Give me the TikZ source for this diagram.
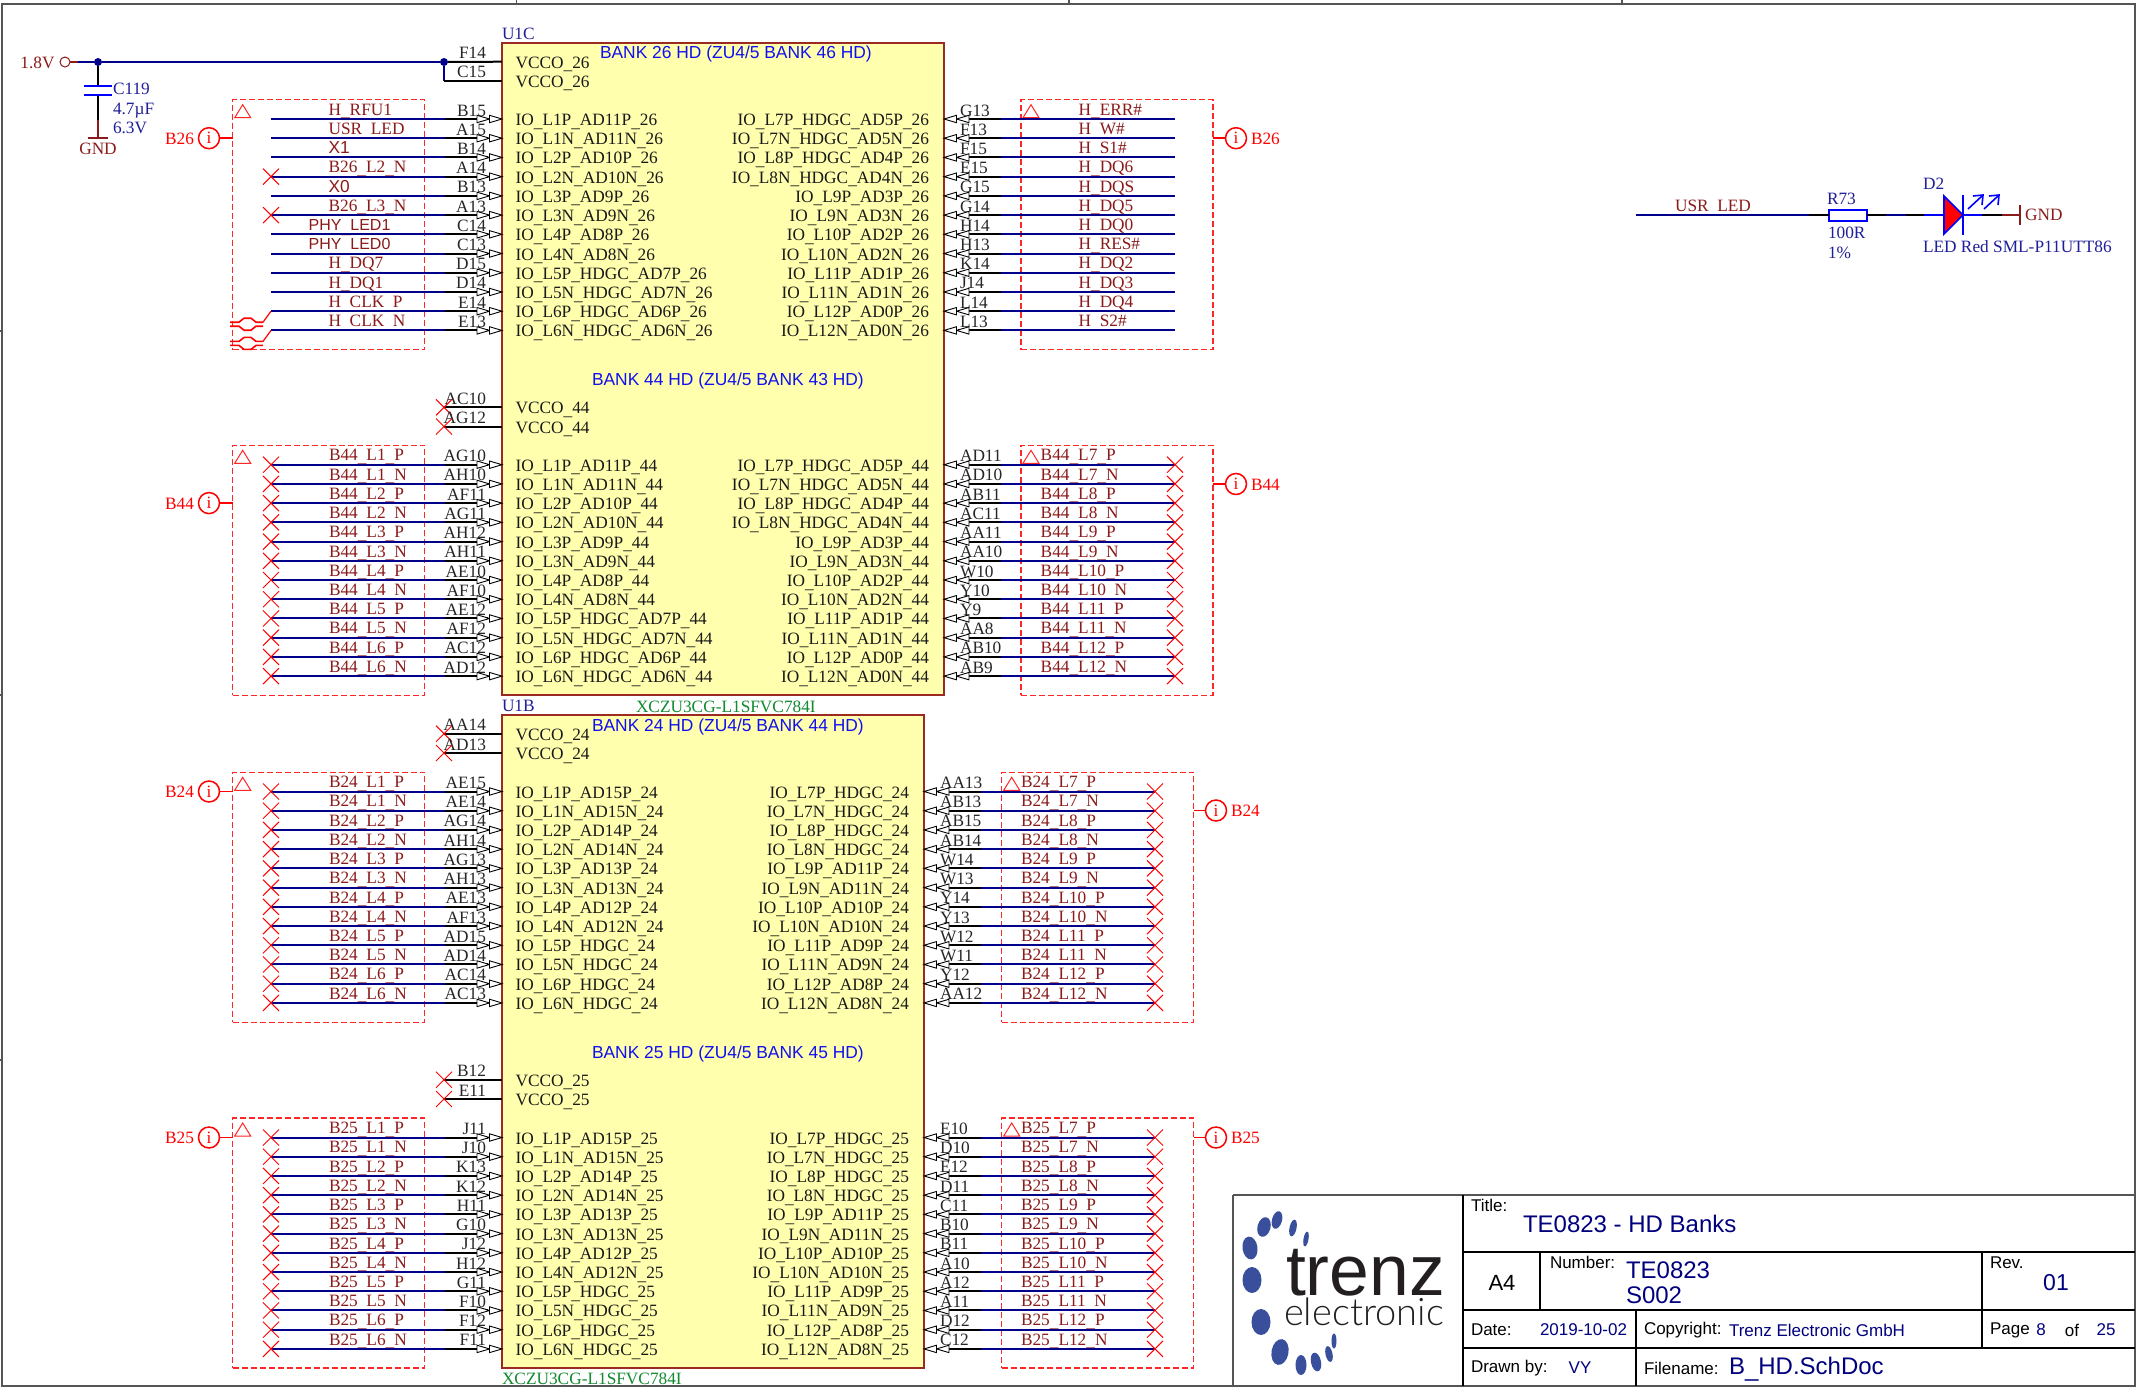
\documentclass[tikz,border=0pt]{standalone}
\usepackage{fontspec}
\setmainfont{Liberation Serif}
\newfontfamily\ars{Liberation Sans}
\newfontfamily\lgt[UprightFont=* Light]{Lato}
\usetikzlibrary{calc}
\definecolor{wirecol}{HTML}{00008B}
\definecolor{netcol}{HTML}{8B1A1A}
\definecolor{compcol}{HTML}{1F1F99}
\definecolor{bankcol}{HTML}{1010F0}
\definecolor{bodyfill}{HTML}{FFFFAE}
\definecolor{bodyedge}{HTML}{9B2A22}
\definecolor{partcol}{HTML}{128A30}
\definecolor{tbcol}{HTML}{00007F}
\definecolor{logob}{HTML}{3A4F9C}
\definecolor{logok}{HTML}{231F20}
\definecolor{framecol}{HTML}{555555}
\newcommand\fs[1]{\fontsize{#1}{#1}\selectfont}
\tikzset{
 x=1pt,y=-1pt,
 every node/.style={inner sep=0pt,outer sep=0pt},
 wire/.style={draw=wirecol,line width=2pt},
 pinw/.style={draw=black,line width=2pt},
 tri/.style={draw=black,fill=white,line width=0.9pt,line join=miter},
 netlab/.style={font=\fs{17.3},text=netcol},
 pinlab/.style={font=\fs{17.3},text=black!85},
 iolab/.style={font=\fs{17.3},text=black!90},
 banklab/.style={font=\ars\fs{17.4},text=bankcol,anchor=west},
 complab/.style={font=\fs{17.3},text=compcol},
 partlab/.style={font=\fs{17.3},text=partcol,anchor=west},
 body/.style={draw=bodyedge,fill=bodyfill,line width=1.5pt,anchor=north west},
 dbox/.style={draw=red!85!white,line width=1.1pt,dash pattern=on 6pt off 3pt,anchor=north west,minimum width=192pt,minimum height=250pt},
 xmk/.style={draw=red,line width=1pt},
 infoc/.style={circle,draw=red,line width=1.5pt,minimum size=21pt,text=red,font=\fs{17.3}},
 infol/.style={text=red,font=\fs{17.3}},
 junc/.style={circle,fill=wirecol,minimum size=8pt},
 tbl/.style={font=\ars\fs{17},text=black,anchor=west},
 tbv/.style={font=\ars\fs{17},text=tbcol,anchor=west},
 tbline/.style={draw=black,line width=1.4pt},
 diffl/.style={draw=red,line width=1.6pt},
}
\newcommand\xm[1]{\draw[xmk] (#1) ++(-8,-8) -- ++(16,16) ++(-16,0) -- ++(16,-16);}
% #1 tag, #2 y0, #3 net x, #4 list name/pin/net
\newcommand\LeftPins[4]{%
 \foreach \nm/\pn/\nt [count=\i from 0] in {#4}{%
  \pgfmathsetmacro\yy{#2+\i*19.22}
  \node[netlab,anchor=base west] (net#1-\i) at (#3,\yy-3.8) {\nt};
  \node[pinlab,anchor=base east] (pin#1-\i) at (486,\yy-3) {\pn};
  \node[iolab,anchor=base west] (io#1-\i) at (515.6,\yy+6.5) {\nm};
  \coordinate (end#1-\i) at (271,\yy);
  \coordinate (jn#1-\i) at (445,\yy);
  \coordinate (bd#1-\i) at (502,\yy);
  \draw[pinw] (jn#1-\i) -- ($(bd#1-\i)+(-14,0)$);
  \draw[wire] (end#1-\i) -- (jn#1-\i);
  \draw[tri] (bd#1-\i) ++(-12.5,0) -- ++(-12.5,-3.7) -- ++(0,7.4) -- cycle;
  \draw[tri] (bd#1-\i) -- ++(-12.5,-3.7) -- ++(0,7.4) -- cycle;
 }}
% #1 tag, #2 y0, #3 body right x, #4 net x, #5 list
\newcommand\RightPins[5]{%
 \foreach \nm/\pn/\nt [count=\i from 0] in {#5}{%
  \pgfmathsetmacro\yy{#2+\i*19.22}
  \node[netlab,anchor=base west] (net#1-\i) at (#4,\yy-3.8) {\nt};
  \node[pinlab,anchor=base west] (pin#1-\i) at (#3+16,\yy-3) {\pn};
  \node[iolab,anchor=base east] (io#1-\i) at (#3-15,\yy+6.5) {\nm};
  \coordinate (bd#1-\i) at (#3,\yy);
  \coordinate (jn#1-\i) at (#3+57,\yy);
  \coordinate (end#1-\i) at (#3+231,\yy);
  \draw[pinw] ($(bd#1-\i)+(14,0)$) -- (jn#1-\i);
  \draw[wire] (jn#1-\i) -- (end#1-\i);
  \draw[tri] (bd#1-\i) ++(12.5,0) -- ++(12.5,-3.7) -- ++(0,7.4) -- cycle;
  \draw[tri] (bd#1-\i) -- ++(12.5,-3.7) -- ++(0,7.4) -- cycle;
 }}
% #1 tag #2 y #3 name #4 pin
\newcommand\Vcco[4]{%
 \node[iolab,anchor=base west] (vn#1) at (515.6,#2+6.5) {#3};
 \node[pinlab,anchor=base east] (vp#1) at (486,#2-3) {#4};
 \coordinate (vb#1) at (502,#2);
 \coordinate (vx#1) at (444,#2);
 \draw[pinw] (vx#1) -- (vb#1);
 \xm{vx#1}}
\newcommand\BoxTri[1]{\draw[red!85!white,line width=1pt] (#1.north west) ++(2,18) -- ++(16,0) -- ++(-8,-13) -- cycle;}
\newcommand\InfoL[4]{% tag, box, y, text
 \node[infoc] (inf#1) at (209,#3) {i};
 \draw[draw=red,line width=1.5pt] (inf#1) -- (inf#1 -| #2.west);
 \node[infol,anchor=base east] (infl#1) at (194,#3+6) {#4};}
\newcommand\InfoR[5]{% tag, box, x, y, text
 \node[infoc] (inf#1) at (#3,#4) {i};
 \draw[draw=red,line width=1.5pt] (inf#1) -- (inf#1 -| #2.east);
 \node[infol,anchor=base west] (infl#1) at (#3+15,#4+6) {#5};}
\begin{document}
\catcode`\_=\active
\protected\def_{\raisebox{-1.6pt}{\char95 }}
\begin{tikzpicture}
\useasboundingbox (0,0) rectangle (2137,1387);
\fill[white] (0,0) rectangle (2137,1387);
% sheet frame
\draw[draw=framecol,line width=2pt] (1.5,4) -- (2135,4) -- (2135,1386) -- (1.5,1386) -- cycle;
\foreach \q in {516.5,1069,1622}{\draw[draw=framecol,line width=1.2pt] (\q,0) -- (\q,4);}
\foreach \q in {331,695,1060}{\draw[draw=framecol,line width=1.2pt] (0,\q) -- (2,\q);}
% bodies
\node[body,minimum width=442pt,minimum height=652pt] (U1C) at (502,43) {};
\node[body,minimum width=422pt,minimum height=653pt] (U1B) at (502,715) {};
\node[complab,anchor=base west] (lU1C) at (502,39) {U1C};
\node[complab,anchor=base west] (lU1B) at (502,711) {U1B};
\node[partlab] (pU1C) at (636,706.5) {XCZU3CG-L1SFVC784I};
\node[partlab] (pU1B) at (502,1378.5) {XCZU3CG-L1SFVC784I};
\node[banklab] (b26) at (600,54) {BANK 26 HD (ZU4/5 BANK 46 HD)};
\node[banklab] (b44) at (592,381) {BANK 44 HD (ZU4/5 BANK 43 HD)};
\node[banklab] (b24) at (592,727) {BANK 24 HD (ZU4/5 BANK 44 HD)};
\node[banklab] (b25) at (592,1054) {BANK 25 HD (ZU4/5 BANK 45 HD)};
% dashed boxes
\node[dbox] (bL26) at (232.7,99.7) {};
\node[dbox] (bR26) at (1021,99.7) {};
\node[dbox] (bL44) at (232.7,445.3) {};
\node[dbox] (bR44) at (1021,445.3) {};
\node[dbox] (bL24) at (232.7,772.3) {};
\node[dbox] (bR24) at (1001.7,772.3) {};
\node[dbox] (bL25) at (232.7,1118) {};
\node[dbox] (bR25) at (1001.7,1118) {};
\foreach \b in {bL26,bR26,bL44,bR44,bL24,bR24,bL25,bR25}{\BoxTri{\b}}
\InfoL{L26}{bL26}{138.2}{B26}
\InfoR{R26}{bR26}{1236}{138.2}{B26}
\InfoL{L44}{bL44}{503.1}{B44}
\InfoR{R44}{bR44}{1236}{484}{B44}
\InfoL{L24}{bL24}{791.5}{B24}
\InfoR{R24}{bR24}{1216}{810.5}{B24}
\InfoL{L25}{bL25}{1137.5}{B25}
\InfoR{R25}{bR25}{1216}{1137.5}{B25}
% VCCO pins
\node[iolab,anchor=base west] (vnF) at (515.6,68.2) {VCCO_26};
\node[iolab,anchor=base west] (vnC) at (515.6,87.2) {VCCO_26};
\node[pinlab,anchor=base east] (vpF) at (486,58.7) {F14};
\node[pinlab,anchor=base east] (vpC) at (486,77.7) {C15};
\Vcco{a}{407.3}{VCCO_44}{AC10}
\Vcco{b}{426.5}{VCCO_44}{AG12}
\Vcco{c}{733.7}{VCCO_24}{AA14}
\Vcco{d}{753}{VCCO_24}{AD13}
\Vcco{e}{1079.7}{VCCO_25}{B12}
\Vcco{f}{1099}{VCCO_25}{E11}
% signal pins
\LeftPins{A}{119}{328.6}{%
 IO_L1P_AD11P_26/B15/H_RFU1,IO_L1N_AD11N_26/A15/USR_LED,IO_L2P_AD10P_26/B14/{\ars X1},IO_L2N_AD10N_26/A14/B26_L2_N,%
 IO_L3P_AD9P_26/B13/{\ars X0},IO_L3N_AD9N_26/A13/B26_L3_N,IO_L4P_AD8P_26/C14/{\hspace{-20pt}\ars\fs{16}PHY_LED1},IO_L4N_AD8N_26/C13/{\hspace{-20pt}\ars\fs{16}PHY_LED0},%
 IO_L5P_HDGC_AD7P_26/D15/H_DQ7,IO_L5N_HDGC_AD7N_26/D14/H_DQ1,IO_L6P_HDGC_AD6P_26/E14/H_CLK_P,IO_L6N_HDGC_AD6N_26/E13/H_CLK_N}
\RightPins{B}{119}{944}{1078.6}{%
 IO_L7P_HDGC_AD5P_26/G13/H_ERR\#,IO_L7N_HDGC_AD5N_26/F13/H_W\#,IO_L8P_HDGC_AD4P_26/F15/H_S1\#,IO_L8N_HDGC_AD4N_26/E15/H_DQ6,%
 IO_L9P_AD3P_26/G15/H_DQS,IO_L9N_AD3N_26/G14/H_DQ5,IO_L10P_AD2P_26/H14/H_DQ0,IO_L10N_AD2N_26/H13/H_RES\#,%
 IO_L11P_AD1P_26/K14/H_DQ2,IO_L11N_AD1N_26/J14/H_DQ3,IO_L12P_AD0P_26/L14/H_DQ4,IO_L12N_AD0N_26/L13/H_S2\#}
\LeftPins{C}{464.7}{329}{%
 IO_L1P_AD11P_44/AG10/B44_L1_P,IO_L1N_AD11N_44/AH10/B44_L1_N,IO_L2P_AD10P_44/AF11/B44_L2_P,IO_L2N_AD10N_44/AG11/B44_L2_N,%
 IO_L3P_AD9P_44/AH12/B44_L3_P,IO_L3N_AD9N_44/AH11/B44_L3_N,IO_L4P_AD8P_44/AE10/B44_L4_P,IO_L4N_AD8N_44/AF10/B44_L4_N,%
 IO_L5P_HDGC_AD7P_44/AE12/B44_L5_P,IO_L5N_HDGC_AD7N_44/AF12/B44_L5_N,IO_L6P_HDGC_AD6P_44/AC12/B44_L6_P,IO_L6N_HDGC_AD6N_44/AD12/B44_L6_N}
\RightPins{D}{464.7}{944}{1040.7}{%
 IO_L7P_HDGC_AD5P_44/AD11/B44_L7_P,IO_L7N_HDGC_AD5N_44/AD10/B44_L7_N,IO_L8P_HDGC_AD4P_44/AB11/B44_L8_P,IO_L8N_HDGC_AD4N_44/AC11/B44_L8_N,%
 IO_L9P_AD3P_44/AA11/B44_L9_P,IO_L9N_AD3N_44/AA10/B44_L9_N,IO_L10P_AD2P_44/W10/B44_L10_P,IO_L10N_AD2N_44/Y10/B44_L10_N,%
 IO_L11P_AD1P_44/Y9/B44_L11_P,IO_L11N_AD1N_44/AA8/B44_L11_N,IO_L12P_AD0P_44/AB10/B44_L12_P,IO_L12N_AD0N_44/AB9/B44_L12_N}
\LeftPins{E}{791.5}{329}{%
 IO_L1P_AD15P_24/AE15/B24_L1_P,IO_L1N_AD15N_24/AE14/B24_L1_N,IO_L2P_AD14P_24/AG14/B24_L2_P,IO_L2N_AD14N_24/AH14/B24_L2_N,%
 IO_L3P_AD13P_24/AG13/B24_L3_P,IO_L3N_AD13N_24/AH13/B24_L3_N,IO_L4P_AD12P_24/AE13/B24_L4_P,IO_L4N_AD12N_24/AF13/B24_L4_N,%
 IO_L5P_HDGC_24/AD15/B24_L5_P,IO_L5N_HDGC_24/AD14/B24_L5_N,IO_L6P_HDGC_24/AC14/B24_L6_P,IO_L6N_HDGC_24/AC13/B24_L6_N}
\RightPins{F}{791.5}{924}{1021}{%
 IO_L7P_HDGC_24/AA13/B24_L7_P,IO_L7N_HDGC_24/AB13/B24_L7_N,IO_L8P_HDGC_24/AB15/B24_L8_P,IO_L8N_HDGC_24/AB14/B24_L8_N,%
 IO_L9P_AD11P_24/W14/B24_L9_P,IO_L9N_AD11N_24/W13/B24_L9_N,IO_L10P_AD10P_24/Y14/B24_L10_P,IO_L10N_AD10N_24/Y13/B24_L10_N,%
 IO_L11P_AD9P_24/W12/B24_L11_P,IO_L11N_AD9N_24/W11/B24_L11_N,IO_L12P_AD8P_24/Y12/B24_L12_P,IO_L12N_AD8N_24/AA12/B24_L12_N}
\LeftPins{G}{1137.5}{329}{%
 IO_L1P_AD15P_25/J11/B25_L1_P,IO_L1N_AD15N_25/J10/B25_L1_N,IO_L2P_AD14P_25/K13/B25_L2_P,IO_L2N_AD14N_25/K12/B25_L2_N,%
 IO_L3P_AD13P_25/H11/B25_L3_P,IO_L3N_AD13N_25/G10/B25_L3_N,IO_L4P_AD12P_25/J12/B25_L4_P,IO_L4N_AD12N_25/H12/B25_L4_N,%
 IO_L5P_HDGC_25/G11/B25_L5_P,IO_L5N_HDGC_25/F10/B25_L5_N,IO_L6P_HDGC_25/F12/B25_L6_P,IO_L6N_HDGC_25/F11/B25_L6_N}
\RightPins{H}{1137.5}{924}{1021}{%
 IO_L7P_HDGC_25/E10/B25_L7_P,IO_L7N_HDGC_25/D10/B25_L7_N,IO_L8P_HDGC_25/E12/B25_L8_P,IO_L8N_HDGC_25/D11/B25_L8_N,%
 IO_L9P_AD11P_25/C11/B25_L9_P,IO_L9N_AD11N_25/B10/B25_L9_N,IO_L10P_AD10P_25/B11/B25_L10_P,IO_L10N_AD10N_25/A10/B25_L10_N,%
 IO_L11P_AD9P_25/A12/B25_L11_P,IO_L11N_AD9N_25/A11/B25_L11_N,IO_L12P_AD8P_25/D12/B25_L12_P,IO_L12N_AD8N_25/C12/B25_L12_N}
% X marks
\xm{endA-3}\xm{endA-5}
\foreach \t in {C,D,E,F,G,H}{\foreach \k in {0,...,11}{\xm{end\t-\k}}}
% differential pair marks
\foreach \k in {10,11}{
 \draw[diffl,line width=1.2pt] (endA-\k) -- ++(-8,11);
 \draw[diffl] (endA-\k) ++(-8,11) -- ++(-7,0) -- ++(-5,-4) -- ++(-7,0) -- ++(-5,4) -- ++(-9,0);
 \draw[diffl] (endA-\k) ++(-8,15) -- ++(-7,0) -- ++(-5,4) -- ++(-7,0) -- ++(-5,-4) -- ++(-9,0);
}
% 1.8V rail
\node[circle,draw=netcol,line width=1pt,minimum size=10pt] (v18) at (65,62) {};
\node[font=\fs{17.3},text=netcol,anchor=base east] (v18l) at (54.5,68) {1.8V};
\coordinate (stub) at (78,62);
\node[junc] (j1) at (98,62) {};
\node[junc] (j2) at (444,62) {};
\coordinate (vF) at (502,61.7);
\coordinate (vC) at (502,80.7);
\coordinate (vCc) at (444,80.7);
\draw[draw=netcol,line width=2pt] (v18) -- (stub);
\draw[wire] (stub) -- (j1) -- (j2);
\draw[pinw] (j2) -- (vF);
\draw[wire] (j2) -- (vCc);
\draw[pinw] (vCc) -- (vC);
% C119
\coordinate (cp1) at (98,86); \coordinate (cp2) at (98,95);
\coordinate (cg) at (98,120); \coordinate (gg) at (98,138);
\draw[line width=2pt,draw=black] (j1) -- (cp1);
\draw[line width=2pt,draw=black] (cp2) -- (cg);
\draw[line width=2pt,draw=netcol] (cg) -- (gg);
\draw[line width=2.2pt,draw=blue] (84,86) -- (112,86);
\draw[line width=2.2pt,draw=blue] (84,95) -- (112,95);
\draw[line width=2pt,draw=netcol] (87.5,138) -- (108,138);
\node[font=\fs{17.3},text=netcol,anchor=base] (gnd1) at (98,154) {GND};
\node[complab,anchor=base west] (c119) at (113,94) {C119};
\node[complab,anchor=base west] (c119v) at (113,114) {4.7µF};
\node[complab,anchor=base west] (c119u) at (113,133) {6.3V};
% LED circuit
\node[netlab,anchor=base west] (usr) at (1675,211.5) {USR_LED};
\coordinate (u0) at (1636,215); \coordinate (u1) at (1809,215);
\draw[wire] (u0) -- (u1);
\node[draw=blue,fill=white,line width=2pt,minimum width=38pt,minimum height=11pt] (r73) at (1847.5,215) {};
\coordinate (u2) at (1886,215); \coordinate (u3) at (1906,215); \coordinate (u4) at (1924,215);
\coordinate (u5) at (1944,215); \coordinate (u6) at (1963,215); \coordinate (u7) at (1982,215);
\coordinate (u8) at (2002,215); \coordinate (u9) at (2020,215);
\draw[pinw] (u1) -- (r73);
\draw[pinw] (r73) -- (u2);
\draw[wire] (u2) -- (u3);
\draw[pinw] (u3) -- (u4);
\draw[draw=blue,line width=2pt] (u4) -- (u5);
\draw[draw=blue,fill=red,line width=1.6pt] (u5) ++(0,-19) -- (u6) -- ($(u5)+(0,19)$) -- cycle;
\draw[draw=blue,line width=1.8pt] (u6) ++(0,-20) -- ++(0,40);
\draw[draw=blue,line width=2pt] (u6) -- (u7);
\draw[pinw] (u7) -- (u8);
\draw[draw=netcol,line width=2pt] (u8) -- (u9);
\draw[draw=netcol,line width=2pt] (2020,205) -- (2020,225);
\foreach \ax in {1968,1984}{
 \draw[draw=blue,line width=1.6pt] (\ax,209) -- ++(14,-13);
 \draw[draw=blue,line width=1.6pt] (\ax+5,196) -- (\ax+15,195) -- (\ax+14,205);
}
\node[font=\fs{17.3},text=netcol,anchor=west] (gnd2) at (2025,215) {GND};
\node[complab,anchor=west] (r1) at (1827,199) {R73};
\node[complab,anchor=west] (r2) at (1828,233) {100R};
\node[complab,anchor=west] (r3) at (1828,253) {1\%};
\node[complab,anchor=west] (d1) at (1923,184) {D2};
\node[complab,anchor=west] (d2) at (1923,247) {LED Red SML-P11UTT86};
% title block
\draw[draw=framecol,line width=2pt] (1233,1195) -- (2135,1195);
\draw[draw=framecol,line width=1.6pt] (1233,1195) -- (1233,1386);
\draw[tbline] (1463,1195) -- (1463,1386);
\draw[tbline] (1463,1252) -- (2135,1252);
\draw[tbline] (1463,1310) -- (2135,1310);
\draw[tbline] (1463,1348) -- (2135,1348);
\draw[tbline] (1540,1252) -- (1540,1310);
\draw[tbline] (1636,1310) -- (1636,1386);
\draw[tbline] (1982,1252) -- (1982,1348);
\node[tbl] (t1) at (1471,1205) {Title:};
\node[tbv,font=\ars\fs{24}] (t2) at (1523,1224) {TE0823 - HD Banks};
\node[font=\ars\fs{22},anchor=center] (t3) at (1502,1283) {A4};
\node[tbl] (t4) at (1550,1262) {Number:};
\node[tbv,font=\ars\fs{24}] (t5) at (1626,1270) {TE0823};
\node[tbv,font=\ars\fs{24}] (t6) at (1626,1295) {S002};
\node[tbl] (t7) at (1990,1263) {Rev.};
\node[tbv,font=\ars\fs{23},anchor=center] (t8) at (2056,1283) {01};
\node[tbl] (t9) at (1471,1330) {Date:};
\node[tbv] (t10) at (1540,1330) {2019-10-02};
\node[tbl] (t11) at (1644,1330) {Copyright:};
\node[tbv] (t12) at (1729,1330) {Trenz Electronic GmbH};
\node[tbl] (t13) at (1990,1330) {Page};
\node[tbv,anchor=center] (t14) at (2041,1330) {8};
\node[tbl,anchor=center] (t15) at (2072,1330) {of};
\node[tbv,anchor=center] (t16) at (2106,1330) {25};
\node[tbl] (t17) at (1471,1368) {Drawn by:};
\node[tbv,anchor=center] (t18) at (1580,1368) {VY};
\node[tbl] (t19) at (1644,1368) {Filename:};
\node[tbv,font=\ars\fs{24}] (t20) at (1729,1369) {B_HD.SchDoc};
% logo
\foreach \px/\py/\rx/\ry/\ro in {1250/1248/7.5/11.5/8,1252/1280/9.5/13/0,1261/1322/9.5/13/0,1280/1352/8.5/13/-10,1301/1365/5.5/10/0,1316/1362/5/9.5/12,1329/1354/3.5/8/12,1334/1341/2.5/7.5/0,1264/1227/6.5/10/-15,1277/1220/5/9/-15,1293/1228/3.5/8.5/-12,1306/1239/2.5/7.5/-10}{
 \fill[logob] (\px,\py) ellipse[x radius=\rx,y radius=\ry,rotate=\ro];
}
\node[font=\ars\fs{71.5},text=logok,anchor=base west] (lg1) at (1286,1295) {trenz};
\node[font=\lgt\fs{38},text=logok,anchor=base west] (lg2) at (1284,1325) {electronic};
\end{tikzpicture}
\end{document}
